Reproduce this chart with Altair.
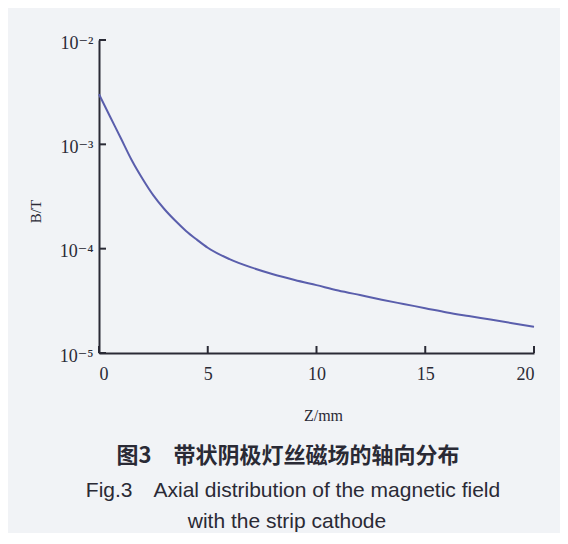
import altair as alt
import pandas as pd

# Data (z in mm, B in T)
z_vals = [0, 0.5, 1, 1.5, 2, 2.5, 3, 3.5, 4, 4.5, 5, 6, 7, 8, 9, 10,
          11, 12, 13, 14, 15, 16, 17, 18, 19, 20]
b_vals = [3.02e-3, 1.86e-3, 1.15e-3, 7.08e-4, 4.68e-4, 3.24e-4, 2.40e-4,
          1.86e-4, 1.48e-4, 1.22e-4, 1.02e-4, 7.94e-5, 6.61e-5, 5.69e-5,
          5.01e-5, 4.47e-5, 3.98e-5, 3.59e-5, 3.24e-5, 2.95e-5, 2.69e-5,
          2.45e-5, 2.26e-5, 2.09e-5, 1.93e-5, 1.78e-5]

x_tick_values = [0, 5, 10, 15, 20]
y_tick_values = [1e-5, 1e-4, 1e-3, 1e-2]
y_tick_labels = ["10⁻⁵", "10⁻⁴", "10⁻³", "10⁻²"]

x_title = "Z/mm"
y_title = "B/T"
caption_cn = "图3\u2003带状阴极灯丝磁场的轴向分布"
caption_en1 = "Fig.3\u2003Axial distribution of the magnetic field"
caption_en2 = "with the strip cathode"

W, H = 435, 313
INK = "#2a2a35"
SERIF = "Liberation Serif, DejaVu Serif, serif"
SANS = "Liberation Sans, Arial, sans-serif"

df = pd.DataFrame({"z": z_vals, "B": b_vals})
xt = pd.DataFrame({"z": x_tick_values})
yt = pd.DataFrame({"B": y_tick_values})

# label expression built from the tick lists
expr = f"'{y_tick_labels[-1]}'"
for v, lab in reversed(list(zip(y_tick_values[:-1], y_tick_labels[:-1]))):
    expr = f"datum.value < {v * 3} ? '{lab}' : " + expr

x_scale = alt.Scale(domain=[0, 20], nice=False, zero=False)
y_scale = alt.Scale(type="log", domain=[1e-5, 1e-2], nice=False)

x_axis = alt.Axis(
    values=x_tick_values, ticks=False, tickSize=0, grid=False,
    domainColor=INK, domainWidth=2, labelFont=SERIF, labelFontSize=18,
    labelColor=INK, labelPadding=12, title=x_title, titleFont=SERIF,
    titleFontSize=16, titleFontWeight="normal", titleColor=INK,
    titleX=224, titleY=62, titleBaseline="middle", titleAnchor="middle",
)
y_axis = alt.Axis(
    values=y_tick_values, labelExpr=expr, ticks=False, tickSize=0, grid=False,
    domainColor=INK, domainWidth=2, labelFont=SERIF, labelFontSize=18,
    labelColor=INK, labelPadding=6, labelOffset=3, title=y_title,
    titleFont=SERIF, titleFontSize=15, titleFontWeight="normal",
    titleColor=INK, titleX=-64, titleY=171, titleBaseline="middle",
    titleAnchor="middle",
)

line = alt.Chart(df).mark_line(
    color="#5a5eac", strokeWidth=2, interpolate="monotone"
).encode(
    x=alt.X("z:Q", scale=x_scale, axis=x_axis),
    y=alt.Y("B:Q", scale=y_scale, axis=y_axis),
)

yticks = alt.Chart(yt).mark_rule(color=INK, strokeWidth=2).encode(
    y=alt.Y("B:Q", scale=y_scale, axis=y_axis),
    x=alt.value(0),
    x2=alt.value(7),
)
xticks = alt.Chart(xt).mark_rule(color=INK, strokeWidth=2).encode(
    x=alt.X("z:Q", scale=x_scale, axis=x_axis),
    y=alt.value(H),
    y2=alt.value(H - 7),
)

def caption(text, x, y, font, size, weight="normal"):
    return alt.Chart(alt.Data(values=[{"t": text}])).mark_text(
        font=font, fontSize=size, fontWeight=weight, color=INK,
        align="center", baseline="middle",
    ).encode(text="t:N", x=alt.value(x), y=alt.value(y))

cap1 = caption(caption_cn, 189, 416, "Noto Sans CJK SC", 22, "bold")
cap2 = caption(caption_en1, 194, 451, SANS, 21)
cap3 = caption(caption_en2, 188, 482, SANS, 21)

chart = alt.layer(line, yticks, xticks, cap1, cap2, cap3).properties(
    width=W, height=H,
    autosize=alt.AutoSizeParams(type="none"),
    padding={"left": 91, "top": 32, "right": 26, "bottom": 180},
    background="#f1f3f6",
).configure_view(stroke=None)

chart.save("out.html", embed_options={"renderer": "svg", "actions": False})
